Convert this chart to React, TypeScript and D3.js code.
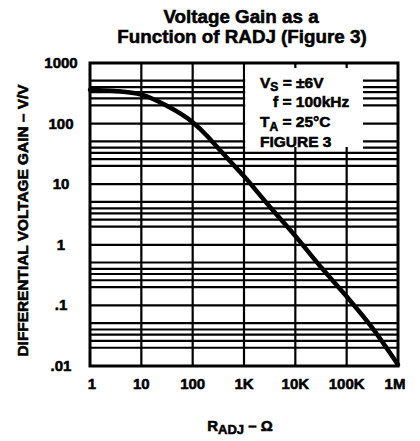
import React from "react";
import * as d3 from "d3";

const R_VALUES = [1, 3, 10, 30, 100, 200, 300, 500, 1000, 3000, 10000, 30000, 100000, 300000, 1000000];
const GAIN_VALUES = [360, 345, 300, 200, 105, 60, 41, 25.5, 13.5, 4.5, 1.4, 0.45, 0.14, 0.045, 0.0105];

const X_TICKS = [1, 10, 100, 1000, 10000, 100000, 1000000];
const X_TICK_LABELS = ["1", "10", "100", "1K", "10K", "100K", "1M"];
const Y_TICKS = [1000, 100, 10, 1, 0.1, 0.01];
const Y_TICK_LABELS = ["1000", "100", "10", "1", ".1", ".01"];
const Y_DECADES = [0.01, 0.1, 1, 10, 100];
const Y_MINOR_MULT = [2, 2.6, 3.3, 4, 5.1];

const W = 420;
const H = 441;
const L = 90, R = 398, T = 63, B = 366;
const FONT = "'Liberation Sans', Arial, Helvetica, sans-serif";

export default function App() {
  const x = d3.scaleLog().domain([1, 1e6]).range([L, R]);
  const y = d3.scaleLog().domain([0.01, 1000]).range([B, T]);

  const minorY: number[] = [];
  Y_DECADES.forEach((d) => Y_MINOR_MULT.forEach((m) => minorY.push(d * m)));
  const hLines = [...Y_TICKS.slice(1, -1), ...minorY];

  const line = d3
    .line<number>()
    .x((_, i) => x(R_VALUES[i]))
    .y((g) => y(g))
    .curve(d3.curveMonotoneX);

  const boxX0 = x(1000) + 1.2;
  const boxX1 = 363;
  const boxY0 = T + 5;
  const boxY1 = 151;

  const txt = { fontFamily: FONT, fontWeight: 700, fill: "#000", stroke: "#000", strokeWidth: 0.55 } as const;

  return (
    <svg width={W} height={H} style={{ position: "absolute", left: 0, top: 0, background: "#fff" }}>
      <rect x={0} y={0} width={W} height={H} fill="#fff" />
      {/* title */}
      <text x={241} y={23} textAnchor="middle" fontSize={18.8} {...txt}>Voltage Gain as a</text>
      <text x={242} y={43} textAnchor="middle" fontSize={18.8} {...txt}>Function of RADJ (Figure 3)</text>

      {/* grid */}
      <g stroke="#000" strokeWidth={2.2}>
        {hLines.map((v, i) => (
          <line key={"h" + i} x1={L} x2={R} y1={y(v)} y2={y(v)} />
        ))}
        {X_TICKS.slice(1, -1).map((v, i) => (
          <line key={"v" + i} x1={x(v)} x2={x(v)} y1={T} y2={B} />
        ))}
      </g>
      {/* legend box (white area masking the grid) */}
      <rect x={boxX0} y={T + 1.5} width={boxX1 - boxX0} height={boxY1 - T - 1.5} fill="#fff" />
      <g stroke="#000" strokeWidth={2.2}>
        {X_TICKS.slice(4, -1).map((v, i) => (
          <line key={"vt" + i} x1={x(v)} x2={x(v)} y1={T} y2={boxY0} />
        ))}
        {X_TICKS.slice(4, -1).map((v, i) => (
          <line key={"vb" + i} x1={x(v)} x2={x(v)} y1={boxY1 - 4} y2={boxY1} />
        ))}
      </g>
      <g fontSize={15.5} {...txt}>
        <text x={260} y={88}>V<tspan fontSize={12} dy={3}>S</tspan><tspan dy={-3}> = ±6V</tspan></text>
        <text x={273} y={107}>f = 100kHz</text>
        <text x={260} y={127}>T<tspan fontSize={12} dy={4}>A</tspan><tspan dy={-4}> = 25°C</tspan></text>
        <text x={260} y={147}>FIGURE 3</text>
      </g>

      {/* frame */}
      <rect x={L} y={T} width={R - L} height={B - T} fill="none" stroke="#000" strokeWidth={3} />

      {/* curve */}
      <path d={line(GAIN_VALUES) || ""} fill="none" stroke="#000" strokeWidth={4.5} strokeLinecap="round" />

      {/* y tick labels */}
      <g fontSize={15} {...txt} textAnchor="middle">
        {Y_TICKS.map((v, i) => (
          <text key={"yl" + i} x={61} y={y(v) + 5}>{Y_TICK_LABELS[i]}</text>
        ))}
      </g>
      {/* x tick labels */}
      <g fontSize={15} {...txt} textAnchor="middle">
        {X_TICKS.map((v, i) => (
          <text key={"xl" + i} x={x(v) + (i === 0 ? 2 : i === X_TICKS.length - 1 ? -3 : 0)} y={389}>{X_TICK_LABELS[i]}</text>
        ))}
      </g>

      {/* axis titles */}
      <text x={240} y={431} textAnchor="middle" fontSize={15} {...txt}>
        R<tspan fontSize={13} dy={3}>ADJ</tspan><tspan dy={-3}> – Ω</tspan>
      </text>
      <text
        transform={`translate(28, ${(T + B) / 2 + 6}) rotate(-90)`}
        textAnchor="middle"
        fontSize={14}
        textLength={272}
        lengthAdjust="spacingAndGlyphs"
        {...txt}
      >
        DIFFERENTIAL VOLTAGE GAIN – V/V
      </text>
    </svg>
  );
}
